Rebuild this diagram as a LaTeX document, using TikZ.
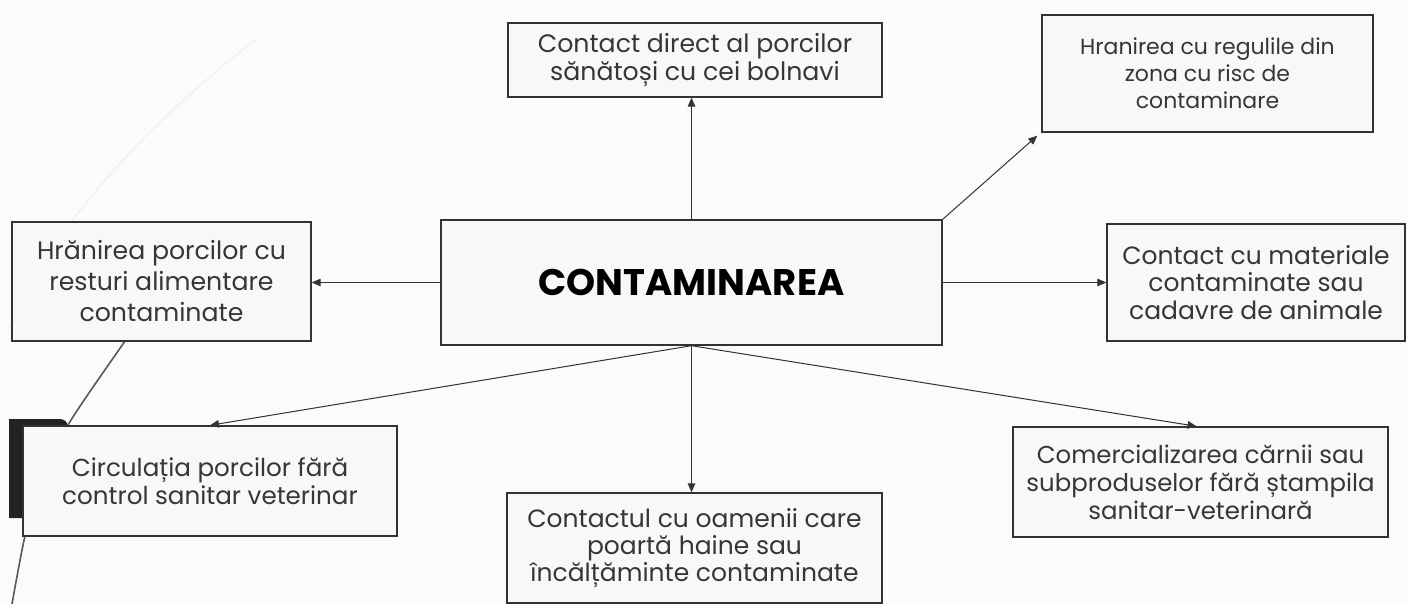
\documentclass[tikz,border=0pt]{standalone}
\usepackage{fontspec}
\setmainfont{Poppins}
\usetikzlibrary{arrows.meta}
\definecolor{bg}{HTML}{FBFBFB}
\definecolor{boxfill}{HTML}{F7F8F8}
\definecolor{edge}{HTML}{333333}
\definecolor{txt}{HTML}{363636}
\definecolor{deco}{HTML}{222222}
\begin{document}
\begin{tikzpicture}[x=0.5pt,y=-0.5pt,
  box/.style={draw=edge, fill=boxfill, line width=0.7pt, align=center, text=txt, inner sep=0pt},
  conn/.style={draw=edge, line width=0.5pt, -{Triangle[length=4.5pt,width=3.8pt]}}]
\useasboundingbox (0,0) rectangle (1407,604);
\fill[bg] (0,0) rectangle (1407,604);
% slide background decorations
\draw[black!7, line width=0.4pt] (255,40) .. controls (140,130) and (50,230) .. (8,330);
\fill[deco] (9,419) -- (60,419) to[out=0,in=90] (68,427) -- (68,518) -- (9,518) -- cycle;
\draw[black!65, line width=0.8pt] plot[smooth] coordinates {(160,290) (125,341) (68,425) (40,485) (25,536) (12,604)};
% nodes
\node[box, minimum width=187pt, minimum height=37pt, font=\fontsize{12.6}{14}\selectfont] (T) at (695,60) {Contact direct al porcilor\\sănătoși cu cei bolnavi};
\node[box, minimum width=165.5pt, minimum height=58.5pt, font=\fontsize{11}{13.5}\selectfont] (HR) at (1207.5,73.5) {Hranirea cu regulile din\\zona cu risc de\\contaminare};
\node[box, minimum width=149pt, minimum height=58.5pt, font=\fontsize{12.5}{13.8}\selectfont] (MAT) at (1256,282.5) {Contact cu materiale\\contaminate sau\\cadavre de animale};
\node[box, minimum width=250.5pt, minimum height=62.5pt, text=black, font=\fontsize{18.5}{20}\selectfont\bfseries] (C) at (691.5,282.5) {CONTAMINAREA};
\node[box, minimum width=149.5pt, minimum height=59.5pt, font=\fontsize{12.6}{15.5}\selectfont] (HP) at (161.5,281.5) {Hrănirea porcilor cu\\resturi alimentare\\contaminate};
\node[box, minimum width=187pt, minimum height=55pt, font=\fontsize{12.3}{14}\selectfont] (CI) at (210,481) {Circulația porcilor fără\\control sanitar veterinar};
\node[box, minimum width=187.5pt, minimum height=55pt, font=\fontsize{12.5}{13.3}\selectfont] (CO) at (694.5,548) {Contactul cu oamenii care\\poartă haine sau\\încălțăminte contaminate};
\node[box, minimum width=187.5pt, minimum height=55pt, font=\fontsize{12.2}{14}\selectfont] (CM) at (1200.5,482) {Comercializarea cărnii sau\\subproduselor fără ștampila\\sanitar-veterinară};
\coordinate (HRin) at ([shift={(-4,3)}]HR.south west);
% connectors
\draw[conn] (C.north) -- (C.north |- T.south);
\draw[conn] (C.north east) -- (HRin);
\draw[conn] (C.east) -- (MAT.west |- C.east);
\draw[conn] (C.west) -- (HP.east |- C.west);
\draw[conn] (C.south) -- (CI.north);
\draw[conn] (C.south) -- (C.south |- CO.north);
\draw[conn] (C.south) -- ([xshift=-2]CM.north);
\end{tikzpicture}
\end{document}
